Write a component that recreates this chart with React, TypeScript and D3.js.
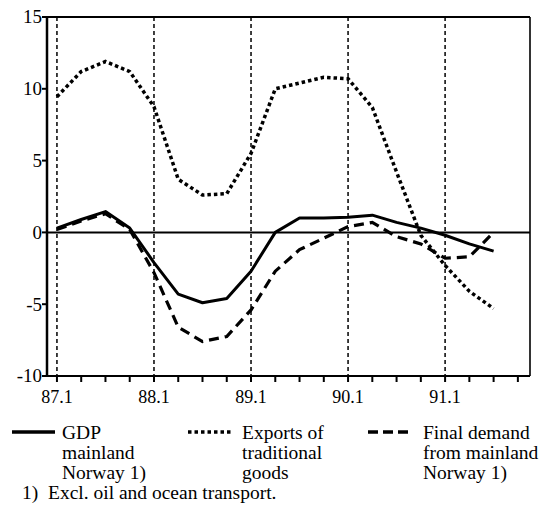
import React from "react";
import * as d3 from "d3";

const quarters = [
  "87.1", "87.2", "87.3", "87.4",
  "88.1", "88.2", "88.3", "88.4",
  "89.1", "89.2", "89.3", "89.4",
  "90.1", "90.2", "90.3", "90.4",
  "91.1", "91.2", "91.3",
];
const gdp = [0.3, 0.9, 1.45, 0.3, -2.1, -4.3, -4.9, -4.6, -2.7, 0.0, 1.0, 1.0, 1.05, 1.2, 0.7, 0.3, -0.2, -0.8, -1.3];
const exportsTrad = [9.45, 11.2, 11.9, 11.2, 8.75, 3.7, 2.6, 2.7, 5.5, 10.0, 10.4, 10.8, 10.7, 8.7, 4.2, -0.2, -2.3, -4.1, -5.3];
const finalDemand = [0.2, 0.8, 1.3, 0.2, -2.8, -6.6, -7.6, -7.25, -5.4, -2.7, -1.2, -0.4, 0.4, 0.7, -0.3, -0.8, -1.8, -1.7, 0.0];

const yTicks = [15, 10, 5, 0, -5, -10];
const tickCount = 20; // quarterly ticks 87.1 .. 91.4
const yearLabels = ["87.1", "88.1", "89.1", "90.1", "91.1"];

const legendItems = [
  { lines: ["GDP", "mainland", "Norway 1)"], dash: "none", width: 3.5 },
  { lines: ["Exports of", "traditional", "goods"], dash: "3.5 3", width: 3.5 },
  { lines: ["Final demand", "from mainland", "Norway 1)"], dash: "10 5", width: 3.5 },
];
const footnote = "1)\u00a0\u00a0Excl. oil and ocean transport.";

const FONT = "'Liberation Serif', 'DejaVu Serif', 'Times New Roman', Times, serif";

export default function App() {
  const W = 552, H = 513;
  const left = 47, right = 530, top = 17, bottom = 376;
  const x = d3.scaleLinear().domain([-0.41, 19.5]).range([left, right]);
  const y = d3.scaleLinear().domain([-10, 15]).range([bottom, top]);
  const line = d3.line<number>().x((_, i) => x(i)).y((d) => y(d));

  const ticks = d3.range(tickCount);
  const legendX = [12, 188, 368];
  const legendTextX = [62, 242, 423];

  return (
    <svg width={W} height={H} style={{ position: "absolute", left: 0, top: 0, display: "block", background: "#fff" }}
      fontFamily={FONT}>
      {/* vertical dashed year lines */}
      {yearLabels.map((lab) => {
        const xi = x(quarters.indexOf(lab));
        return <line key={lab} x1={xi} x2={xi} y1={top} y2={bottom} stroke="#000" strokeWidth={1.5} strokeDasharray="4 3" />;
      })}
      {/* zero line */}
      <line x1={left} x2={right} y1={y(0)} y2={y(0)} stroke="#000" strokeWidth={2} />
      {/* frame */}
      <line x1={left} x2={right} y1={top} y2={top} stroke="#000" strokeWidth={2.2} />
      <line x1={right} x2={right} y1={top} y2={bottom} stroke="#000" strokeWidth={1.6} />
      <line x1={left} x2={right} y1={bottom} y2={bottom} stroke="#000" strokeWidth={2.2} />
      <line x1={left} x2={left} y1={top - 1} y2={bottom + 1} stroke="#000" strokeWidth={2.5} />
      {/* y ticks */}
      {yTicks.map((t) => (
        <g key={t}>
          <line x1={left - 5} x2={left} y1={y(t)} y2={y(t)} stroke="#000" strokeWidth={2} />
          <text x={42} y={y(t)} dy="0.34em" textAnchor="end" fontSize={19}>{t}</text>
        </g>
      ))}
      {/* x ticks */}
      {ticks.map((i) => (
        <line key={i} x1={x(i)} x2={x(i)} y1={bottom} y2={bottom + 6} stroke="#000" strokeWidth={2} />
      ))}
      {yearLabels.map((lab) => (
        <text key={lab} x={x(quarters.indexOf(lab))} y={403} textAnchor="middle" fontSize={18}>{lab}</text>
      ))}
      {/* series */}
      <path d={line(exportsTrad) || ""} fill="none" stroke="#000" strokeWidth={3.5} strokeDasharray="3.5 3" />
      <path d={line(finalDemand) || ""} fill="none" stroke="#000" strokeWidth={3.2} strokeDasharray="10 6" />
      <path d={line(gdp) || ""} fill="none" stroke="#000" strokeWidth={3} strokeLinejoin="round" />
      {/* legend */}
      {legendItems.map((it, k) => (
        <g key={k}>
          <line x1={legendX[k]} x2={legendX[k] + 43} y1={432} y2={432} stroke="#000" strokeWidth={it.width}
            strokeDasharray={it.dash === "none" ? undefined : it.dash} />
          {it.lines.map((s, j) => (
            <text key={j} x={legendTextX[k]} y={439 + j * 20} fontSize={19.5}>{s}</text>
          ))}
        </g>
      ))}
      <text x={22} y={499} fontSize={19.5}>{footnote}</text>
    </svg>
  );
}
